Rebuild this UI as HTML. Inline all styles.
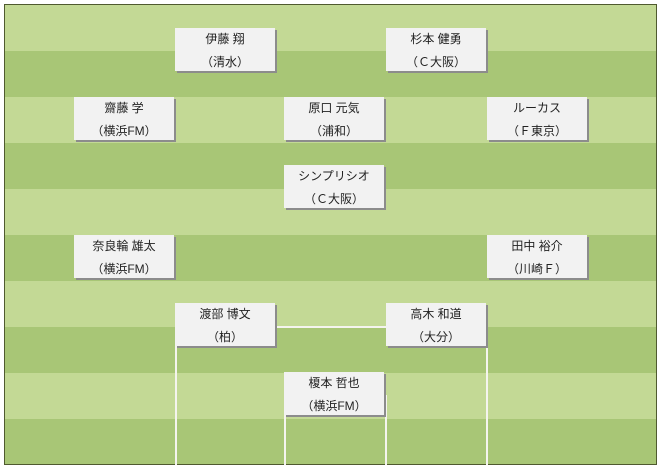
<!DOCTYPE html>
<html><head><meta charset="utf-8"><style>
body{margin:0;width:661px;height:471px;background:#fff;position:relative;overflow:hidden;font-family:"Liberation Sans","Noto Sans CJK JP",sans-serif}
#f{position:absolute;left:4px;top:4px;width:651px;height:459px;border:1px solid #4f5a2f;
background:repeating-linear-gradient(to bottom,#c3d995 0,#c3d995 46px,#a8c676 46px,#a8c676 92px)}
.l{position:absolute;background:#f4f4ee}
.b{position:absolute;width:100px;height:43px;background:#f2f2f2;box-shadow:2px 2px 0 #8c8c8c;font-size:12px;color:#222;text-align:center;line-height:23px;padding-top:0}
</style></head><body>
<div id="f"></div>
<div class="l" style="left:175px;top:326px;width:312px;height:2px"></div>
<div class="l" style="left:175px;top:326px;width:2px;height:139px"></div>
<div class="l" style="left:486px;top:326px;width:2px;height:139px"></div>
<div class="l" style="left:284px;top:395px;width:2px;height:70px"></div>
<div class="l" style="left:385px;top:395px;width:2px;height:70px"></div>
<div class="b" style="left:175px;top:28px">伊藤 翔<br>（清水）</div>
<div class="b" style="left:386px;top:28px">杉本 健勇<br>（Ｃ大阪）</div>
<div class="b" style="left:74px;top:97px">齋藤 学<br>（横浜FM）</div>
<div class="b" style="left:284px;top:97px">原口 元気<br>（浦和）</div>
<div class="b" style="left:487px;top:97px">ルーカス<br>（Ｆ東京）</div>
<div class="b" style="left:284px;top:165px">シンプリシオ<br>（Ｃ大阪）</div>
<div class="b" style="left:74px;top:235px">奈良輪 雄太<br>（横浜FM）</div>
<div class="b" style="left:487px;top:235px">田中 裕介<br>（川崎Ｆ）</div>
<div class="b" style="left:175px;top:303px">渡部 博文<br>（柏）</div>
<div class="b" style="left:386px;top:303px">高木 和道<br>（大分）</div>
<div class="b" style="left:284px;top:372px">榎本 哲也<br>（横浜FM）</div>
</body></html>
